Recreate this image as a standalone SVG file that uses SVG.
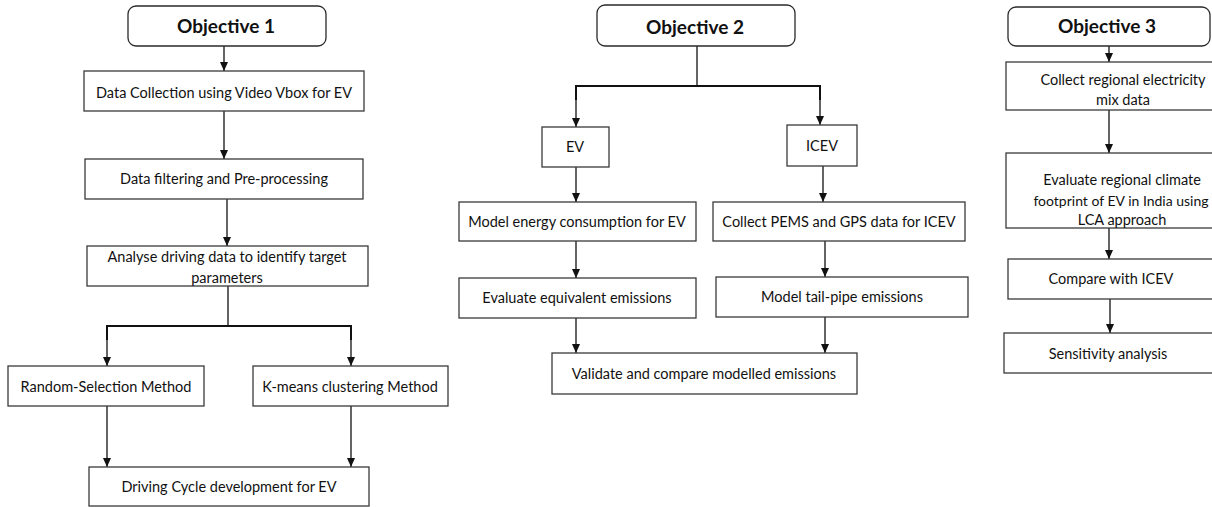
<svg xmlns="http://www.w3.org/2000/svg" width="1212" height="507" viewBox="0 0 1212 507">
<style>
.box{fill:#fff;stroke:#3a3a3a;stroke-width:1.3}
.obj{fill:#fff;stroke:#2a2a2a;stroke-width:1.3}
.t{font-family:Lato,"Liberation Sans",sans-serif;font-size:14.5px;fill:#111;text-anchor:middle}
.h{font-family:Lato,"Liberation Sans",sans-serif;font-size:19px;font-weight:bold;fill:#111;text-anchor:middle}
.c{fill:none;stroke:#111;stroke-width:1.3}
.b{fill:none;stroke:#111;stroke-width:2}
</style>
<defs>
<marker id="ah" markerUnits="userSpaceOnUse" markerWidth="9" markerHeight="8" refX="9" refY="4" orient="auto" viewBox="0 0 9 8">
<path d="M0,0 L9,4 L0,8 Z" fill="#111"/>
</marker>
</defs>
<rect width="1212" height="507" fill="#fff"/>
<g id="connectors">
<line class="c" x1="224" y1="46" x2="224" y2="71" marker-end="url(#ah)"/>
<line class="c" x1="224" y1="111" x2="224" y2="159" marker-end="url(#ah)"/>
<line class="c" x1="227" y1="199" x2="227" y2="246" marker-end="url(#ah)"/>
<line class="c" x1="228" y1="286" x2="228" y2="326"/>
<polyline class="b" points="107,340 107,326 351,326 351,340"/>
<line class="c" x1="107" y1="330" x2="107" y2="366" marker-end="url(#ah)"/>
<line class="c" x1="351" y1="330" x2="351" y2="366" marker-end="url(#ah)"/>
<line class="c" x1="107" y1="406" x2="107" y2="467" marker-end="url(#ah)"/>
<line class="c" x1="351" y1="406" x2="351" y2="467" marker-end="url(#ah)"/>
<line class="c" x1="697" y1="46" x2="697" y2="86"/>
<polyline class="b" points="576,100 576,86 820,86 820,100"/>
<line class="c" x1="576" y1="90" x2="576" y2="127" marker-end="url(#ah)"/>
<line class="c" x1="820" y1="90" x2="820" y2="125" marker-end="url(#ah)"/>
<line class="c" x1="576" y1="167" x2="576" y2="202" marker-end="url(#ah)"/>
<line class="c" x1="823" y1="166" x2="823" y2="202" marker-end="url(#ah)"/>
<line class="c" x1="576" y1="241" x2="576" y2="278" marker-end="url(#ah)"/>
<line class="c" x1="825" y1="241" x2="825" y2="277" marker-end="url(#ah)"/>
<line class="c" x1="576" y1="318" x2="576" y2="353" marker-end="url(#ah)"/>
<line class="c" x1="825" y1="317" x2="825" y2="353" marker-end="url(#ah)"/>
<line class="c" x1="1109" y1="46" x2="1109" y2="62" marker-end="url(#ah)"/>
<line class="c" x1="1109" y1="110" x2="1109" y2="153" marker-end="url(#ah)"/>
<line class="c" x1="1109" y1="228" x2="1109" y2="259" marker-end="url(#ah)"/>
<line class="c" x1="1110" y1="299" x2="1110" y2="333" marker-end="url(#ah)"/>
</g>
<g id="obj1"><rect class="obj" x="128" y="6" width="198" height="40" rx="8"/><text class="h" x="226" y="33">Objective 1</text></g>
<g id="datacollection"><rect class="box" x="84" y="71" width="280" height="40"/><text class="t" x="224" y="98">Data Collection using Video Vbox for EV</text></g>
<g id="filtering"><rect class="box" x="85" y="159" width="278" height="40"/><text class="t" x="224" y="184">Data filtering and Pre-processing</text></g>
<g id="analyse"><rect class="box" x="87" y="246" width="281" height="40"/><text class="t" x="227" y="262">Analyse driving data to identify target</text><text class="t" x="227" y="283">parameters</text></g>
<g id="random"><rect class="box" x="8" y="366" width="196" height="40"/><text class="t" x="106" y="392">Random-Selection Method</text></g>
<g id="kmeans"><rect class="box" x="253" y="366" width="195" height="40"/><text class="t" x="350" y="392">K-means clustering Method</text></g>
<g id="drivingcycle"><rect class="box" x="89" y="467" width="280" height="39"/><text class="t" x="229" y="492">Driving Cycle development for EV</text></g>
<g id="obj2"><rect class="obj" x="597" y="5" width="198" height="41" rx="8"/><text class="h" x="695" y="34">Objective 2</text></g>
<g id="ev"><rect class="box" x="542" y="127" width="67" height="40"/><text class="t" x="575" y="152">EV</text></g>
<g id="icev"><rect class="box" x="787" y="125" width="70" height="41"/><text class="t" x="822" y="151">ICEV</text></g>
<g id="modelenergy"><rect class="box" x="459" y="202" width="237" height="39"/><text class="t" x="577" y="227">Model energy consumption for EV</text></g>
<g id="collectpems"><rect class="box" x="713" y="202" width="252" height="39"/><text class="t" x="839" y="227">Collect PEMS and GPS data for ICEV</text></g>
<g id="evaluateeq"><rect class="box" x="459" y="278" width="237" height="40"/><text class="t" x="577" y="303">Evaluate equivalent emissions</text></g>
<g id="tailpipe"><rect class="box" x="716" y="277" width="252" height="40"/><text class="t" x="842" y="302">Model tail-pipe emissions</text></g>
<g id="validate"><rect class="box" x="552" y="353" width="305" height="41"/><text class="t" x="704" y="379">Validate and compare modelled emissions</text></g>
<g id="obj3"><rect class="obj" x="1008" y="7" width="202" height="39" rx="8"/><text class="h" x="1107" y="33">Objective 3</text></g>
<g id="electricity"><rect class="box" x="1006" y="62" width="240" height="48"/><text class="t" x="1123" y="85">Collect regional electricity</text><text class="t" x="1123" y="105">mix data</text></g>
<g id="climate"><rect class="box" x="1006" y="153" width="240" height="75"/><text class="t" x="1122" y="185">Evaluate regional climate</text><text class="t" x="1121" y="206" style="font-size:14px">footprint of EV in India using</text><text class="t" x="1122" y="225">LCA approach</text></g>
<g id="compare"><rect class="box" x="1008" y="259" width="240" height="40"/><text class="t" x="1111" y="284">Compare with ICEV</text></g>
<g id="sensitivity"><rect class="box" x="1004" y="333" width="240" height="40"/><text class="t" x="1108" y="359">Sensitivity analysis</text></g>
</svg>
